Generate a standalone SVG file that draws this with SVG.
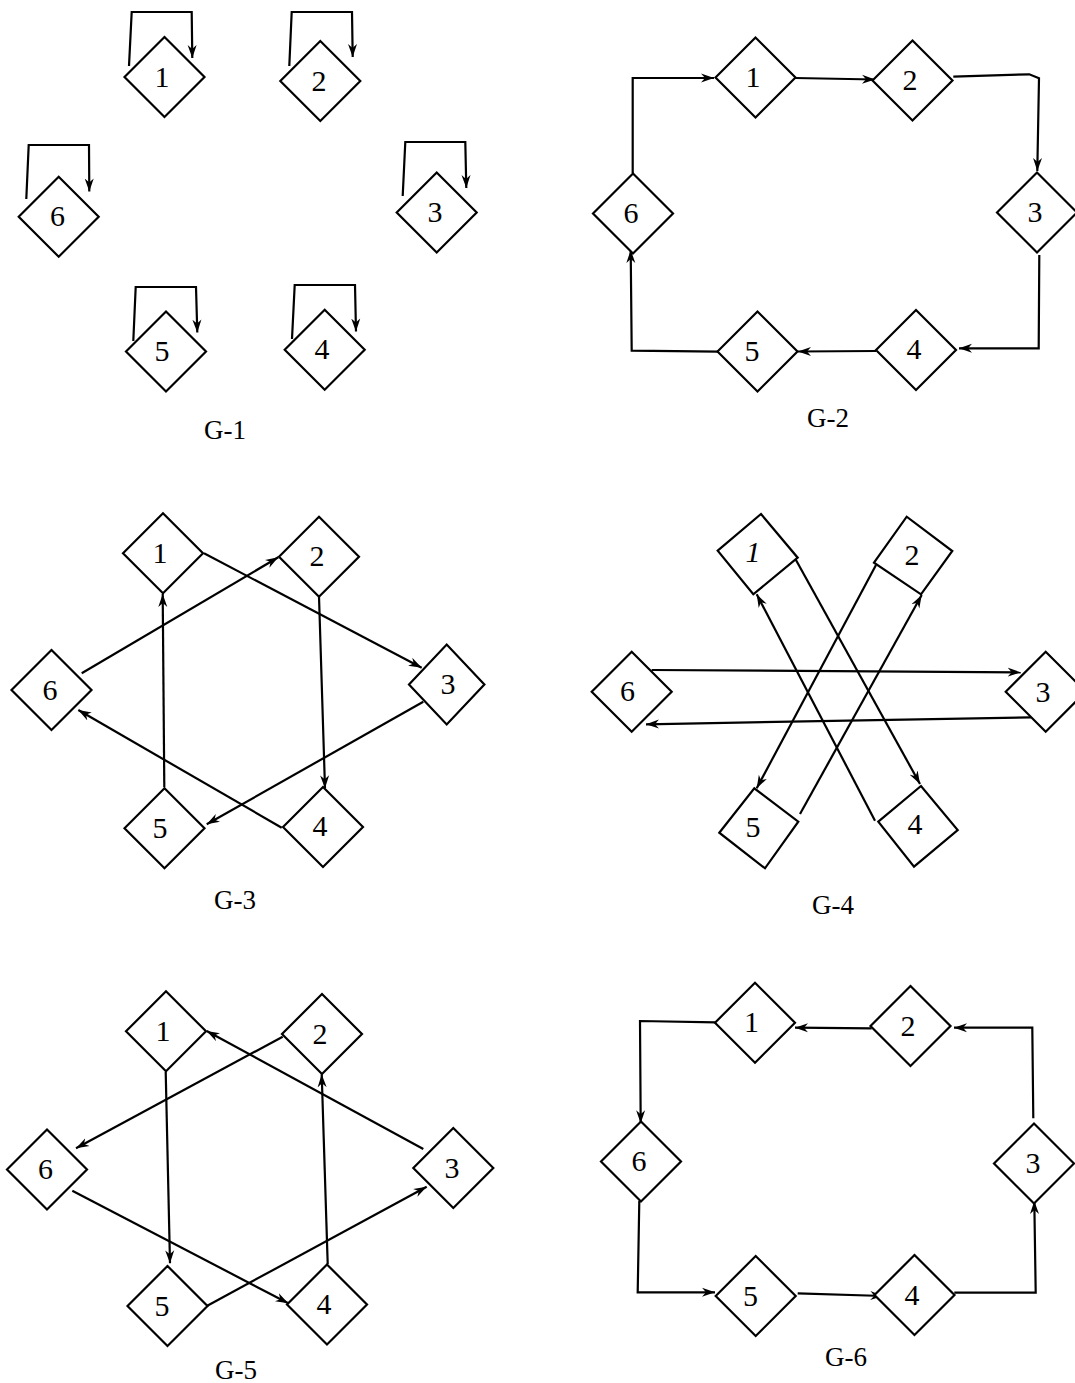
<svg xmlns="http://www.w3.org/2000/svg" width="1075" height="1383" viewBox="0 0 1075 1383">
<style>
.nd{fill:#fff;stroke:#000;stroke-width:2.2}
.t{font-family:"Liberation Serif","Times New Roman",serif;font-size:30px;text-anchor:middle;fill:#000}
.lb{font-family:"Liberation Serif","Times New Roman",serif;font-size:27px;text-anchor:middle;fill:#000}
.e{fill:none;stroke:#000;stroke-width:2.2;marker-end:url(#ah)}
</style>
<defs>
<marker id="ah" viewBox="0 0 13 10" refX="13" refY="5" markerWidth="13" markerHeight="10" orient="auto" markerUnits="userSpaceOnUse">
<path d="M0,0.5 L13,5 L0,9.5 L4,5 z" fill="#000"/>
</marker>
</defs>
<rect width="1075" height="1383" fill="#fff"/>

<!-- G-1 -->
<g id="g1-connectors">
<path class="e" d="M129,66 L131.7,12 L191.7,12 L192.3,58"/>
<path class="e" d="M289.3,66 L291.7,12 L352,12 L352.7,57"/>
<path class="e" d="M402.7,196 L405.3,142 L465.3,142 L466.3,188"/>
<path class="e" d="M292,339 L294.7,285 L355,285 L356,331.5"/>
<path class="e" d="M133.3,341 L135.7,287 L196,287 L197.3,332.5"/>
<path class="e" d="M26.3,199 L28.7,145 L89,145 L89.3,191.5"/>
</g>
<g id="g1-n1"><polygon class="nd" points="124.5,77 164.5,37 204.5,77 164.5,117"/><text class="t" x="162" y="86.5">1</text></g>
<g id="g1-n2"><polygon class="nd" points="280.3,81 320.3,41 360.3,81 320.3,121"/><text class="t" x="319" y="90.5">2</text></g>
<g id="g1-n3"><polygon class="nd" points="396.7,212.5 436.7,172.5 476.7,212.5 436.7,252.5"/><text class="t" x="435" y="222">3</text></g>
<g id="g1-n4"><polygon class="nd" points="284.7,349.7 324.7,309.7 364.7,349.7 324.7,389.7"/><text class="t" x="322" y="359">4</text></g>
<g id="g1-n5"><polygon class="nd" points="126,351.5 166,311.5 206,351.5 166,391.5"/><text class="t" x="162" y="361">5</text></g>
<g id="g1-n6"><polygon class="nd" points="18.7,216.7 58.7,176.7 98.7,216.7 58.7,256.7"/><text class="t" x="57.5" y="226">6</text></g>
<text class="lb" x="225" y="439">G-1</text>

<!-- G-2 -->
<g id="g2-connectors">
<path class="e" d="M632.7,173 L632.7,78 L714,78"/>
<path class="e" d="M795,78 L875,79.5"/>
<path class="e" d="M953.3,76.7 L1029.3,74.3 L1039,78.3 L1037.3,171"/>
<path class="e" d="M1039.3,255 L1038.7,348.3 L959,348.3"/>
<path class="e" d="M876,351 L798,351.5"/>
<path class="e" d="M718.3,351.7 L631.7,350.7 L630.7,250"/>
</g>
<g id="g2-n1"><polygon class="nd" points="715.5,77.5 755.5,37.5 795.5,77.5 755.5,117.5"/><text class="t" x="753" y="86.5">1</text></g>
<g id="g2-n2"><polygon class="nd" points="872.5,80.5 912.5,40.5 952.5,80.5 912.5,120.5"/><text class="t" x="910" y="89.5">2</text></g>
<g id="g2-n3"><polygon class="nd" points="997,212.5 1037,172.5 1077,212.5 1037,252.5"/><text class="t" x="1035" y="222">3</text></g>
<g id="g2-n4"><polygon class="nd" points="876,350 916,310 956,350 916,390"/><text class="t" x="914" y="359">4</text></g>
<g id="g2-n5"><polygon class="nd" points="717.5,351.5 757.5,311.5 797.5,351.5 757.5,391.5"/><text class="t" x="752" y="361">5</text></g>
<g id="g2-n6"><polygon class="nd" points="593,213.5 633,173.5 673,213.5 633,253.5"/><text class="t" x="631" y="222.5">6</text></g>
<text class="lb" x="828" y="427">G-2</text>

<!-- G-3 -->
<g id="g3-connectors">
<path class="e" d="M204,553.3 L421.7,667.7"/>
<path class="e" d="M81.7,673.3 L278.3,557.3"/>
<path class="e" d="M164.3,787.3 L162.7,594"/>
<path class="e" d="M319,596.7 L325,788.3"/>
<path class="e" d="M423.3,701.7 L206.7,824.3"/>
<path class="e" d="M281.7,827.7 L78.3,710"/>
</g>
<g id="g3-n1"><polygon class="nd" points="123,553.3 163,513.3 203,553.3 163,593.3"/><text class="t" x="160" y="562.5">1</text></g>
<g id="g3-n2"><polygon class="nd" points="279,556.7 319,516.7 359,556.7 319,596.7"/><text class="t" x="317" y="566">2</text></g>
<g id="g3-n3"><polygon class="nd" points="409,684.5 446.7,644.5 484.4,684.5 446.7,724.5"/><text class="t" x="448" y="694">3</text></g>
<g id="g3-n4"><polygon class="nd" points="283,827 323,787 363,827 323,867"/><text class="t" x="320" y="836">4</text></g>
<g id="g3-n5"><polygon class="nd" points="124.5,828.3 164.5,788.3 204.5,828.3 164.5,868.3"/><text class="t" x="160" y="837.5">5</text></g>
<g id="g3-n6"><polygon class="nd" points="11.5,690 51.5,650 91.5,690 51.5,730"/><text class="t" x="50" y="699.5">6</text></g>
<text class="lb" x="235" y="909">G-3</text>

<!-- G-4 -->
<g id="g4-connectors">
<path class="e" d="M651.7,670 L1020.7,672.3"/>
<path class="e" d="M1031,717.3 L646,724.3"/>
<path class="e" d="M795,558.3 L920,784"/>
<path class="e" d="M875,820.7 L756.7,594.3"/>
<path class="e" d="M876,565 L756.7,788.3"/>
<path class="e" d="M800,814 L921.7,595"/>
</g>
<g id="g4-n1"><polygon class="nd" points="717.7,550.7 761,514 797.7,557.7 753.3,594.3"/><text class="t" x="753" y="562" font-style="italic">1</text></g>
<g id="g4-n2"><polygon class="nd" points="874,562.7 906.7,516.7 952.3,551 921,594.3"/><text class="t" x="912" y="564.5">2</text></g>
<g id="g4-n3"><polygon class="nd" points="1005.7,691.7 1045.7,651.7 1085.7,691.7 1045.7,731.7"/><text class="t" x="1043" y="701.5">3</text></g>
<g id="g4-n4"><polygon class="nd" points="878.3,821.7 921,786 957.7,830 914,866.7"/><text class="t" x="915" y="833.5">4</text></g>
<g id="g4-n5"><polygon class="nd" points="719.3,832.7 754.3,788.3 798.3,821.7 765,868.3"/><text class="t" x="753" y="837">5</text></g>
<g id="g4-n6"><polygon class="nd" points="591.7,691.7 631.7,651.7 671.7,691.7 631.7,731.7"/><text class="t" x="627.5" y="701">6</text></g>
<text class="lb" x="833" y="914">G-4</text>

<!-- G-5 -->
<g id="g5-connectors">
<path class="e" d="M423.3,1149 L206.7,1031"/>
<path class="e" d="M282.7,1036.7 L76,1148.3"/>
<path class="e" d="M165.7,1071.7 L170,1263.3"/>
<path class="e" d="M327.7,1264 L321.7,1074.3"/>
<path class="e" d="M72.3,1190.7 L288.3,1303.3"/>
<path class="e" d="M207.3,1305.7 L426.7,1186.7"/>
</g>
<g id="g5-n1"><polygon class="nd" points="126,1031.3 166,991.3 206,1031.3 166,1071.3"/><text class="t" x="163" y="1041">1</text></g>
<g id="g5-n2"><polygon class="nd" points="282,1034 322,994 362,1034 322,1074"/><text class="t" x="320" y="1043.5">2</text></g>
<g id="g5-n3"><polygon class="nd" points="413.3,1168 453.3,1128 493.3,1168 453.3,1208"/><text class="t" x="452" y="1177.5">3</text></g>
<g id="g5-n4"><polygon class="nd" points="287,1304.5 327,1264.5 367,1304.5 327,1344.5"/><text class="t" x="324" y="1314">4</text></g>
<g id="g5-n5"><polygon class="nd" points="127.5,1306 167.5,1266 207.5,1306 167.5,1346"/><text class="t" x="162" y="1315.5">5</text></g>
<g id="g5-n6"><polygon class="nd" points="7,1169.5 47,1129.5 87,1169.5 47,1209.5"/><text class="t" x="45.5" y="1179">6</text></g>
<text class="lb" x="236" y="1379">G-5</text>

<!-- G-6 -->
<g id="g6-connectors">
<path class="e" d="M715.7,1022.3 L640,1021 L640.7,1123.3"/>
<path class="e" d="M871.7,1028.3 L795,1027.7"/>
<path class="e" d="M1033.3,1118.3 L1032.3,1027.7 L954,1027.7"/>
<path class="e" d="M639.3,1200.7 L637.7,1292.3 L715,1292.3"/>
<path class="e" d="M797.7,1293.3 L883.3,1296"/>
<path class="e" d="M954.3,1292.7 L1035.7,1292.7 L1034.3,1201"/>
</g>
<g id="g6-n1"><polygon class="nd" points="715,1022.7 755,982.7 795,1022.7 755,1062.7"/><text class="t" x="751.5" y="1032">1</text></g>
<g id="g6-n2"><polygon class="nd" points="870.5,1026 910.5,986 950.5,1026 910.5,1066"/><text class="t" x="908" y="1035.5">2</text></g>
<g id="g6-n3"><polygon class="nd" points="994,1163.5 1034,1123.5 1074,1163.5 1034,1203.5"/><text class="t" x="1033" y="1173">3</text></g>
<g id="g6-n4"><polygon class="nd" points="874.5,1295 914.5,1255 954.5,1295 914.5,1335"/><text class="t" x="912" y="1304.5">4</text></g>
<g id="g6-n5"><polygon class="nd" points="715.7,1296 755.7,1256 795.7,1296 755.7,1336"/><text class="t" x="750.5" y="1305.5">5</text></g>
<g id="g6-n6"><polygon class="nd" points="601,1161.5 641,1121.5 681,1161.5 641,1201.5"/><text class="t" x="639" y="1171">6</text></g>
<text class="lb" x="846" y="1366">G-6</text>
</svg>
